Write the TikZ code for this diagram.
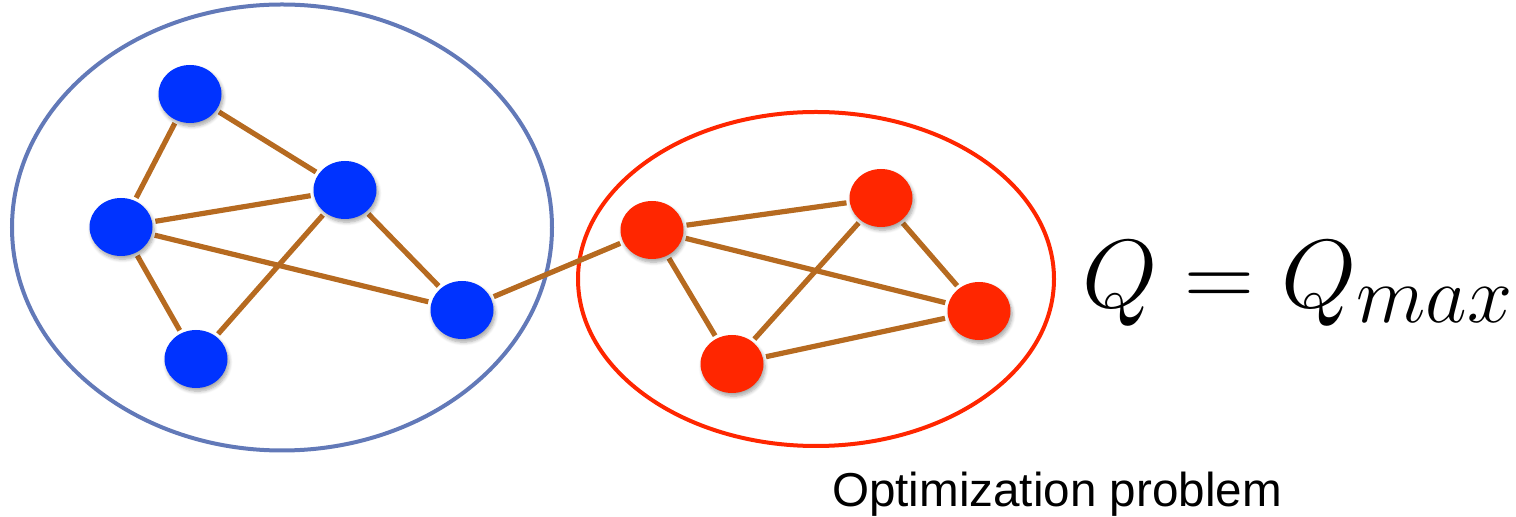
\documentclass[tikz,border=0pt]{standalone}
\usepackage{fontspec}
\newfontfamily\labelfont{Liberation Sans}
\usetikzlibrary{shapes.geometric,shadows.blur}
\definecolor{vblue}{RGB}{0,51,255}
\definecolor{vred}{RGB}{255,38,0}
\definecolor{edgebrown}{RGB}{182,106,32}
\definecolor{ringblue}{RGB}{98,121,184}
\tikzset{
  vertex/.style={ellipse, minimum width=31.5pt, minimum height=29pt, inner sep=0pt,
    blur shadow={shadow xshift=0.8pt, shadow yshift=-1.6pt, shadow blur steps=6, shadow opacity=35}},
  bvertex/.style={vertex, fill=vblue},
  rvertex/.style={vertex, fill=vred},
  link/.style={draw=edgebrown, line width=2.6pt, shorten <=1.5pt, shorten >=1.5pt},
  ring/.style={line width=2pt}
}
\begin{document}
\begin{tikzpicture}[x=0.5pt, y=-0.5pt]
  \useasboundingbox (0,0) rectangle (1516,517);

  % community outlines
  \draw[ring, draw=ringblue] (282,227.5) ellipse [x radius=270, y radius=223];
  \draw[ring, draw=vred] (816,279) ellipse [x radius=238, y radius=167];

  % vertex positions
  \coordinate (pb1) at (190,94);
  \coordinate (pb2) at (121,227);
  \coordinate (pb3) at (345,190);
  \coordinate (pb4) at (462,310);
  \coordinate (pb5) at (196,359);
  \coordinate (pr1) at (652,230);
  \coordinate (pr2) at (881,198);
  \coordinate (pr3) at (979,311);
  \coordinate (pr4) at (732,364);

  % invisible placeholders so edges stop at the vertex outlines
  \foreach \v in {b1,b2,b3,b4,b5,r1,r2,r3,r4}
    \node[ellipse, minimum width=31.5pt, minimum height=29pt, inner sep=0pt] (\v) at (p\v) {};

  % edges
  \foreach \a/\b in {b1/b2,b1/b3,b2/b3,b2/b4,b2/b5,b3/b5,b3/b4,b4/r1,
                     r1/r2,r1/r3,r1/r4,r2/r4,r2/r3,r4/r3}
    \draw[link] (\a) -- (\b);

  % vertices
  \foreach \v in {b1,b2,b3,b4,b5}
    \node[bvertex] at (p\v) {};
  \foreach \v in {r1,r2,r3,r4}
    \node[rvertex] at (p\v) {};

  % labels
  \node[anchor=base west, inner sep=0pt] (eq) at (1082,308)
    {\fontsize{24.88}{30}\selectfont\scalebox{1.95}{$Q = Q_{max}$}};
  \node[anchor=base, inner sep=0pt] (cap) at (1057,507)
    {\labelfont\fontsize{23.8}{28}\selectfont Optimization problem};
\end{tikzpicture}
\end{document}
